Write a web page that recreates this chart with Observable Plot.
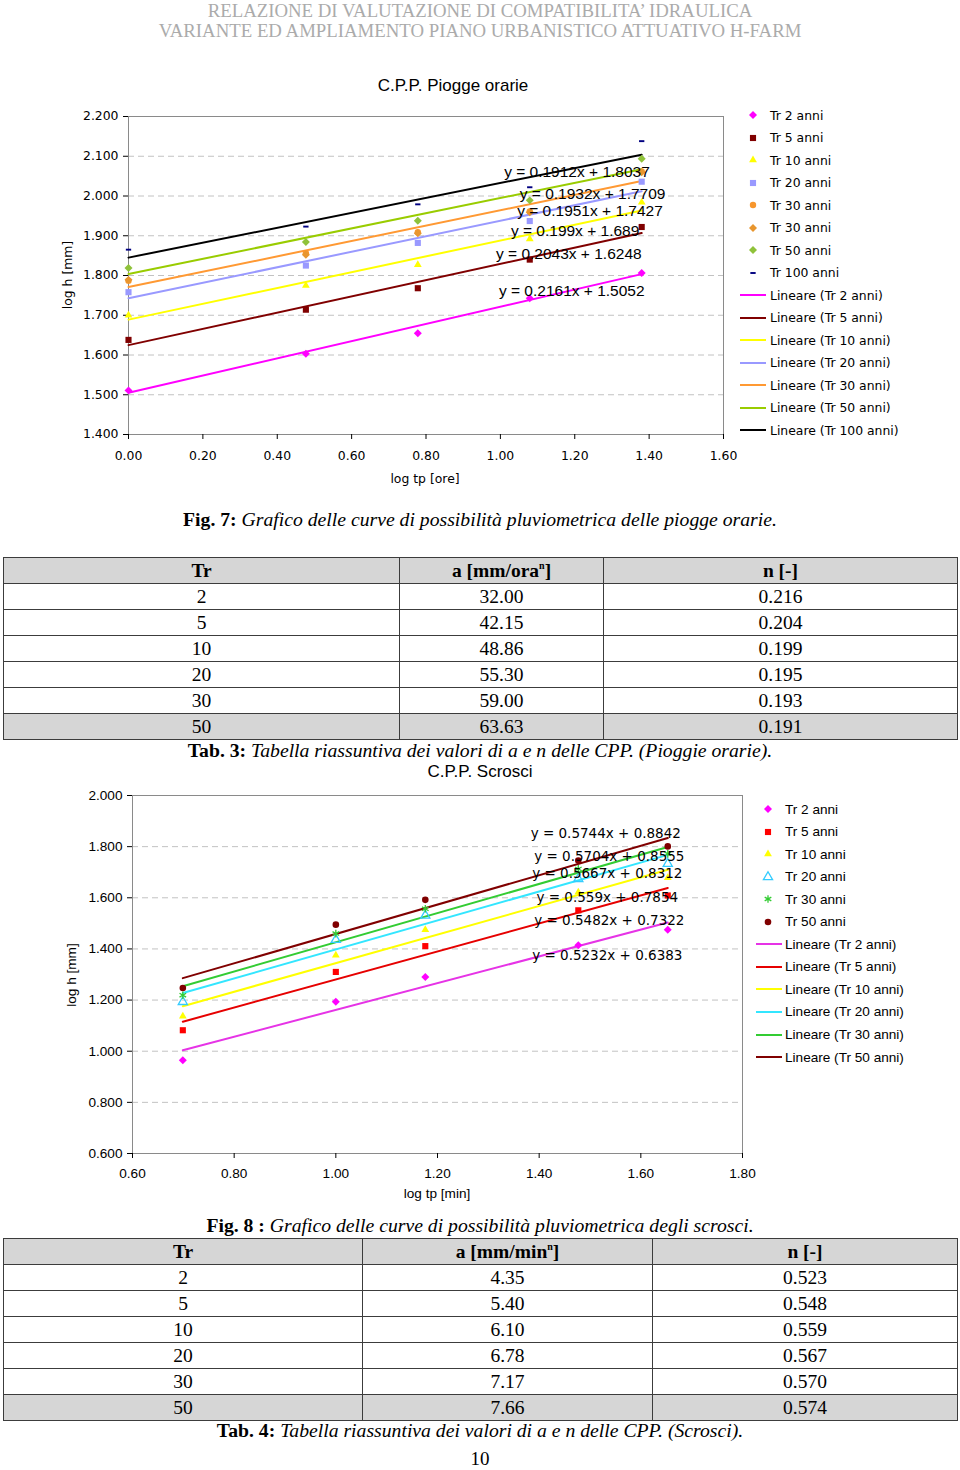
<!DOCTYPE html>
<html>
<head>
<meta charset="utf-8">
<script src="https://cdn.jsdelivr.net/npm/d3@7"></script>
<script src="https://cdn.jsdelivr.net/npm/@observablehq/plot@0.6"></script>
<style>
  body { margin: 0; background: #fff; }
  #page { position: relative; width: 960px; height: 1470px; overflow: hidden; background: #fff;
          font-family: "Liberation Serif", "Times New Roman", serif; color: #000; }
  .abs { position: absolute; }
  .hdr { left: 0; width: 960px; text-align: center; color: #ababab; font-size: 18.8px; line-height: 21px; white-space: nowrap; }
  .cap { left: 0; width: 960px; text-align: center; font-size: 19.7px; line-height: 22px; white-space: nowrap; }
  .cap b { font-weight: bold; }
  .cap i { font-style: italic; }
  .pnum { left: 0; width: 960px; text-align: center; font-size: 19px; line-height: 21px; }
  .ctitle { font-family: "Liberation Sans", Arial, sans-serif; font-size: 17px; line-height: 20px; text-align: center; white-space: nowrap; }
  .alabel { white-space: nowrap; line-height: 16px; }
  table.t { position: absolute; border-collapse: collapse; table-layout: fixed; font-family: "Liberation Serif", "Times New Roman", serif; font-size: 19.5px; }
  table.t tr { height: 26px; }
  table.t td { border: 1.4px solid #3c3c3c; padding: 0; text-align: center; line-height: 22px; }
  table.t tr.g td { background: #d6d6d6; }
  table.t tr.h td { font-weight: bold; }
  table.t sup { font-size: 10px; vertical-align: 8px; line-height: 0; }
  .leg { position: absolute; display: flex; align-items: center; height: 20px; white-space: nowrap; }
  .leg svg { display: block; flex: none; }
  svg.plot { position: absolute; left: 0; }
</style>
</head>
<body>
<div id="page"></div>
<script>
// ===================== DATA =====================
// Chart 1 – C.P.P. Piogge orarie (x = log tp [ore], y = log h [mm])
const xOre = [0.000, 0.477, 0.778, 1.079, 1.380];
const xTicksOre = [0.0, 0.2, 0.4, 0.6, 0.8, 1.0, 1.2, 1.4, 1.6];
const yTicksOre = [1.4, 1.5, 1.6, 1.7, 1.8, 1.9, 2.0, 2.1, 2.2];
const oreSeriesNames = ["Tr 2 anni", "Tr 5 anni", "Tr 10 anni", "Tr 20 anni", "Tr 30 anni", "Tr 30 anni", "Tr 50 anni", "Tr 100 anni"];
const hOreTr2   = [1.511, 1.603, 1.655, 1.743, 1.806];
const hOreTr5   = [1.638, 1.714, 1.768, 1.840, 1.922];
const hOreTr10  = [1.700, 1.775, 1.827, 1.892, 1.984];
const hOreTr20  = [1.758, 1.825, 1.882, 1.937, 2.036];
const hOreTr30a = [1.787, 1.856, 1.909, 1.961, 2.062];
const hOreTr30b = [1.789, 1.852, 1.906, 1.959, 2.060];
const hOreTr50  = [1.819, 1.884, 1.938, 1.989, 2.094];
const hOreTr100 = [1.865, 1.923, 1.979, 2.022, 2.138];
const oreFitNames = ["Lineare (Tr 2 anni)", "Lineare (Tr 5 anni)", "Lineare (Tr 10 anni)", "Lineare (Tr 20 anni)", "Lineare (Tr 30 anni)", "Lineare (Tr 50 anni)", "Lineare (Tr 100 anni)"];
const oreFitSlope     = [0.2161, 0.2043, 0.199, 0.1951, 0.1932, 0.1912, 0.1877];
const oreFitIntercept = [1.5052, 1.6248, 1.689, 1.7427, 1.7709, 1.8037, 1.845];
const oreEqText = ["y = 0.2161x + 1.5052", "y = 0.2043x + 1.6248", "y = 0.199x + 1.689", "y = 0.1951x + 1.7427", "y = 0.1932x + 1.7709", "y = 0.1912x + 1.8037"];
const oreEqX = [1.192, 1.184, 1.201, 1.241, 1.248, 1.206];
const oreEqY = [1.760, 1.853, 1.913, 1.961, 2.005, 2.061];

// Chart 2 – C.P.P. Scrosci (x = log tp [min], y = log h [mm])
const xMin = [0.699, 1.000, 1.176, 1.477, 1.653];
const xTicksMin = [0.6, 0.8, 1.0, 1.2, 1.4, 1.6, 1.8];
const yTicksMin = [0.6, 0.8, 1.0, 1.2, 1.4, 1.6, 1.8, 2.0];
const minSeriesNames = ["Tr 2 anni", "Tr 5 anni", "Tr 10 anni", "Tr 20 anni", "Tr 30 anni", "Tr 50 anni"];
const hMinTr2  = [0.965, 1.193, 1.290, 1.414, 1.475];
const hMinTr5  = [1.082, 1.310, 1.411, 1.551, 1.609];
const hMinTr10 = [1.137, 1.375, 1.475, 1.622, 1.678];
const hMinTr20 = [1.193, 1.436, 1.531, 1.674, 1.733];
const hMinTr30 = [1.219, 1.460, 1.557, 1.713, 1.772];
const hMinTr50 = [1.247, 1.495, 1.592, 1.746, 1.801];
const minFitNames = ["Lineare (Tr 2 anni)", "Lineare (Tr 5 anni)", "Lineare (Tr 10 anni)", "Lineare (Tr 20 anni)", "Lineare (Tr 30 anni)", "Lineare (Tr 50 anni)"];
const minFitSlope     = [0.5232, 0.5482, 0.559, 0.5667, 0.5704, 0.5744];
const minFitIntercept = [0.6383, 0.7322, 0.7854, 0.8312, 0.8555, 0.8842];
const minEqText = ["y = 0.5232x + 0.6383", "y = 0.5482x + 0.7322", "y = 0.559x + 0.7854", "y = 0.5667x + 0.8312", "y = 0.5704x + 0.8555", "y = 0.5744x + 0.8842"];
const minEqX = [1.534, 1.538, 1.534, 1.534, 1.538, 1.531];
const minEqY = [1.375, 1.509, 1.600, 1.694, 1.759, 1.850];

// Tables
const trValues  = ["2", "5", "10", "20", "30", "50"];
const aOrarie   = ["32.00", "42.15", "48.86", "55.30", "59.00", "63.63"];
const nOrarie   = ["0.216", "0.204", "0.199", "0.195", "0.193", "0.191"];
const aScrosci  = ["4.35", "5.40", "6.10", "6.78", "7.17", "7.66"];
const nScrosci  = ["0.523", "0.548", "0.559", "0.567", "0.570", "0.574"];

// ===================== STYLES =====================
const dashSymbol = {
  draw(context, size) {
    const s = Math.sqrt(size);
    const w = s * 0.5, h = s * 0.18;
    context.moveTo(-w, -h); context.lineTo(w, -h); context.lineTo(w, h); context.lineTo(-w, h); context.closePath();
  }
};
const d3Sym = {
  diamond2: d3.symbolDiamond2, square2: d3.symbolSquare2, triangle2: d3.symbolTriangle2,
  circle: d3.symbolCircle, triangle: d3.symbolTriangle, asterisk: d3.symbolAsterisk, dash: dashSymbol
};
const oreDotStyle = [
  {symbol: "diamond2", fill: "#ff00ff", r: 3.6},
  {symbol: "square2", fill: "#800000", r: 3.9},
  {symbol: "triangle2", fill: "#ffff00", r: 3.7},
  {symbol: "square2", fill: "#9999ff", r: 3.9},
  {symbol: "circle", fill: "#f7962d", r: 3.2},
  {symbol: "diamond2", fill: "#e8962e", r: 3.6},
  {symbol: "diamond2", fill: "#8fc23a", r: 3.6},
  {symbol: "dash", fill: "#000080", r: 3.0}
];
const oreLineColor = ["#ff00ff", "#800000", "#ffff00", "#9999ff", "#ff9933", "#99cc00", "#000000"];
const minDotStyle = [
  {symbol: "diamond2", fill: "#ff00ff", r: 3.6},
  {symbol: "square2", fill: "#ff0000", r: 3.9},
  {symbol: "triangle2", fill: "#ffff00", r: 3.7},
  {symbol: "triangle", stroke: "#33ccff", r: 3.4},
  {symbol: "asterisk", stroke: "#33cc33", r: 3.6},
  {symbol: "circle", fill: "#800000", r: 3.3}
];
const minLineColor = ["#e633e6", "#e60000", "#ffff00", "#33e6ff", "#33cc33", "#800000"];

// ===================== PAGE =====================
const page = document.getElementById("page");
function addDiv(cls, html, css) {
  const d = document.createElement("div");
  d.className = cls;
  d.innerHTML = html;
  Object.assign(d.style, css || {});
  page.appendChild(d);
  return d;
}

addDiv("abs hdr", "RELAZIONE DI VALUTAZIONE DI COMPATIBILITA’ IDRAULICA", {top: "0px"});
addDiv("abs hdr", "VARIANTE ED AMPLIAMENTO PIANO URBANISTICO ATTUATIVO H-FARM", {top: "19.5px"});

function symbolPath(name, r) {
  return d3.symbol().type(d3Sym[name]).size(r * r * Math.PI)();
}

function buildPlot(cfg) {
  const marks = [
    Plot.ruleY(cfg.yTicks.slice(1, -1), {stroke: "#c2c2c2", strokeDasharray: "6,4", strokeWidth: 1}),
    Plot.frame({stroke: "#8a8a8a"}),
    Plot.axisY({ticks: cfg.yTicks, tickFormat: d3.format(".3f"), tickSize: 5, tickPadding: 5, label: null, fontSize: cfg.tickFont}),
    Plot.axisX({ticks: cfg.xTicks, tickFormat: d3.format(".2f"), tickSize: 5, tickPadding: cfg.xPad, label: null, fontSize: cfg.tickFont})
  ];
  const [x0, x1] = d3.extent(cfg.xData);
  cfg.slopes.forEach((m, i) => {
    const b = cfg.intercepts[i];
    marks.push(Plot.line([{x: x0, y: b + m * x0}, {x: x1, y: b + m * x1}], {x: "x", y: "y", stroke: cfg.lineColors[i], strokeWidth: 2}));
  });
  cfg.series.forEach((vals, i) => {
    const st = cfg.dotStyles[i];
    const data = vals.map((v, j) => ({x: cfg.xData[j], y: v}));
    marks.push(Plot.dot(data, {
      x: "x", y: "y", r: st.r,
      symbol: st.symbol === "dash" ? dashSymbol : st.symbol,
      fill: st.fill || "none", stroke: st.stroke || "none", strokeWidth: st.stroke ? 1.3 : 0
    }));
  });
  const eq = cfg.eqText.map((t, i) => ({t, x: cfg.eqX[i], y: cfg.eqY[i]}));
  marks.push(Plot.text(eq, {x: "x", y: "y", text: "t", fontFamily: cfg.eqFamily, fontSize: cfg.eqSize, fill: "#000"}));
  const svg = Plot.plot({
    width: 960, height: cfg.height,
    marginTop: cfg.mt, marginBottom: cfg.mb, marginLeft: cfg.ml, marginRight: cfg.mr,
    x: {domain: cfg.xDomain}, y: {domain: cfg.yDomain},
    style: {fontFamily: cfg.tickFamily, fontSize: cfg.tickFont + "px", color: "#000", background: "transparent", overflow: "visible"},
    marks
  });
  svg.classList.add("plot");
  svg.style.top = cfg.top + "px";
  page.appendChild(svg);
}

function buildLegend(cfg) {
  const items = [];
  cfg.names.forEach((n, i) => items.push({label: n, dot: cfg.dotStyles[i]}));
  cfg.fitNames.forEach((n, i) => items.push({label: n, line: cfg.lineColors[i]}));
  items.forEach((it, i) => {
    const row = document.createElement("div");
    row.className = "leg";
    row.style.left = cfg.lineX1 + "px";
    row.style.top = (cfg.top + i * cfg.step - 10) + "px";
    row.style.fontFamily = cfg.family;
    row.style.fontSize = cfg.size + "px";
    const w = cfg.textX - cfg.lineX1;
    const svg = d3.create("svg").attr("width", w).attr("height", 20);
    if (it.line) {
      svg.append("line").attr("x1", 0).attr("x2", cfg.lineX2 - cfg.lineX1).attr("y1", 10).attr("y2", 10)
        .attr("stroke", it.line).attr("stroke-width", 2);
    } else {
      const st = it.dot;
      svg.append("path").attr("d", symbolPath(st.symbol, st.r))
        .attr("transform", `translate(${cfg.symX - cfg.lineX1},10)`)
        .attr("fill", st.fill || "none").attr("stroke", st.stroke || "none").attr("stroke-width", st.stroke ? 1.3 : 0);
    }
    row.appendChild(svg.node());
    const span = document.createElement("span");
    span.textContent = it.label;
    row.appendChild(span);
    page.appendChild(row);
  });
}

// ---------- Chart 1 ----------
addDiv("abs ctitle", "C.P.P. Piogge orarie", {left: "0px", width: "906px", top: "76px"});
buildPlot({
  top: 60, height: 440, mt: 56, mb: 66, ml: 128, mr: 237,
  xDomain: [0, 1.6], yDomain: [1.4, 2.2], xTicks: xTicksOre, yTicks: yTicksOre, xData: xOre,
  series: [hOreTr2, hOreTr5, hOreTr10, hOreTr20, hOreTr30a, hOreTr30b, hOreTr50, hOreTr100],
  dotStyles: oreDotStyle, slopes: oreFitSlope, intercepts: oreFitIntercept, lineColors: oreLineColor,
  eqText: oreEqText, eqX: oreEqX, eqY: oreEqY, eqFamily: "Liberation Sans, Arial, sans-serif", eqSize: 15.5,
  tickFamily: "DejaVu Sans, Verdana, sans-serif", tickFont: 12.4, xPad: 12
});
addDiv("abs alabel", "log h [mm]", {left: "68px", top: "275px", transform: "translate(-50%,-50%) rotate(-90deg)", fontFamily: "DejaVu Sans, sans-serif", fontSize: "12.4px"});
addDiv("abs alabel", "log tp [ore]", {left: "425px", top: "479px", transform: "translate(-50%,-50%)", fontFamily: "DejaVu Sans, sans-serif", fontSize: "12.4px"});
buildLegend({
  names: oreSeriesNames, fitNames: oreFitNames, dotStyles: oreDotStyle, lineColors: oreLineColor,
  top: 115, step: 22.5, symX: 753, lineX1: 740, lineX2: 766, textX: 770,
  family: "DejaVu Sans, Verdana, sans-serif", size: 12.4
});

addDiv("abs cap", "<b>Fig. 7:</b> <i>Grafico delle curve di possibilità pluviometrica delle piogge orarie.</i>", {top: "508px"});

// ---------- Table 1 ----------
function buildTable(top, colW, head, colA, colN) {
  const t = document.createElement("table");
  t.className = "t";
  t.style.left = "3px";
  t.style.top = top + "px";
  t.style.width = d3.sum(colW) + "px";
  const cg = document.createElement("colgroup");
  colW.forEach(w => { const c = document.createElement("col"); c.style.width = w + "px"; cg.appendChild(c); });
  t.appendChild(cg);
  const hr = document.createElement("tr");
  hr.className = "h g";
  head.forEach(h => { const td = document.createElement("td"); td.innerHTML = h; hr.appendChild(td); });
  t.appendChild(hr);
  trValues.forEach((tr, i) => {
    const r = document.createElement("tr");
    if (i === trValues.length - 1) r.className = "g";
    [tr, colA[i], colN[i]].forEach(v => { const td = document.createElement("td"); td.textContent = v; r.appendChild(td); });
    t.appendChild(r);
  });
  page.appendChild(t);
}
buildTable(557, [396, 204, 354], ["Tr", "a [mm/ora<sup>n</sup>]", "n [-]"], aOrarie, nOrarie);
addDiv("abs cap", "<b>Tab. 3:</b> <i>Tabella riassuntiva dei valori di a e n delle CPP. (Pioggie orarie).</i>", {top: "739px"});

// ---------- Chart 2 ----------
addDiv("abs ctitle", "C.P.P. Scrosci", {left: "0px", width: "960px", top: "762px"});
buildPlot({
  top: 760, height: 460, mt: 35, mb: 67, ml: 132, mr: 218,
  xDomain: [0.6, 1.8], yDomain: [0.6, 2.0], xTicks: xTicksMin, yTicks: yTicksMin, xData: xMin,
  series: [hMinTr2, hMinTr5, hMinTr10, hMinTr20, hMinTr30, hMinTr50],
  dotStyles: minDotStyle, slopes: minFitSlope, intercepts: minFitIntercept, lineColors: minLineColor,
  eqText: minEqText, eqX: minEqX, eqY: minEqY, eqFamily: "DejaVu Sans, Verdana, sans-serif", eqSize: 13.5,
  tickFamily: "Liberation Sans, Arial, sans-serif", tickFont: 13.6, xPad: 9.5
});
addDiv("abs alabel", "log h [mm]", {left: "72px", top: "975px", transform: "translate(-50%,-50%) rotate(-90deg)", fontFamily: "Liberation Sans, Arial, sans-serif", fontSize: "13.6px"});
addDiv("abs alabel", "log tp [min]", {left: "437px", top: "1194px", transform: "translate(-50%,-50%)", fontFamily: "Liberation Sans, Arial, sans-serif", fontSize: "13.6px"});
buildLegend({
  names: minSeriesNames, fitNames: minFitNames, dotStyles: minDotStyle, lineColors: minLineColor,
  top: 809, step: 22.55, symX: 768, lineX1: 756, lineX2: 782, textX: 785,
  family: "Liberation Sans, Arial, sans-serif", size: 13.6
});

addDiv("abs cap", "<b>Fig. 8 :</b> <i>Grafico delle curve di possibilità pluviometrica degli scrosci.</i>", {top: "1214px"});

// ---------- Table 2 ----------
buildTable(1238, [359, 290, 305], ["Tr", "a [mm/min<sup>n</sup>]", "n [-]"], aScrosci, nScrosci);
addDiv("abs cap", "<b>Tab. 4:</b> <i>Tabella riassuntiva dei valori di a e n delle CPP. (Scrosci).</i>", {top: "1419px"});
addDiv("abs pnum", "10", {top: "1448px"});
</script>
</body>
</html>
